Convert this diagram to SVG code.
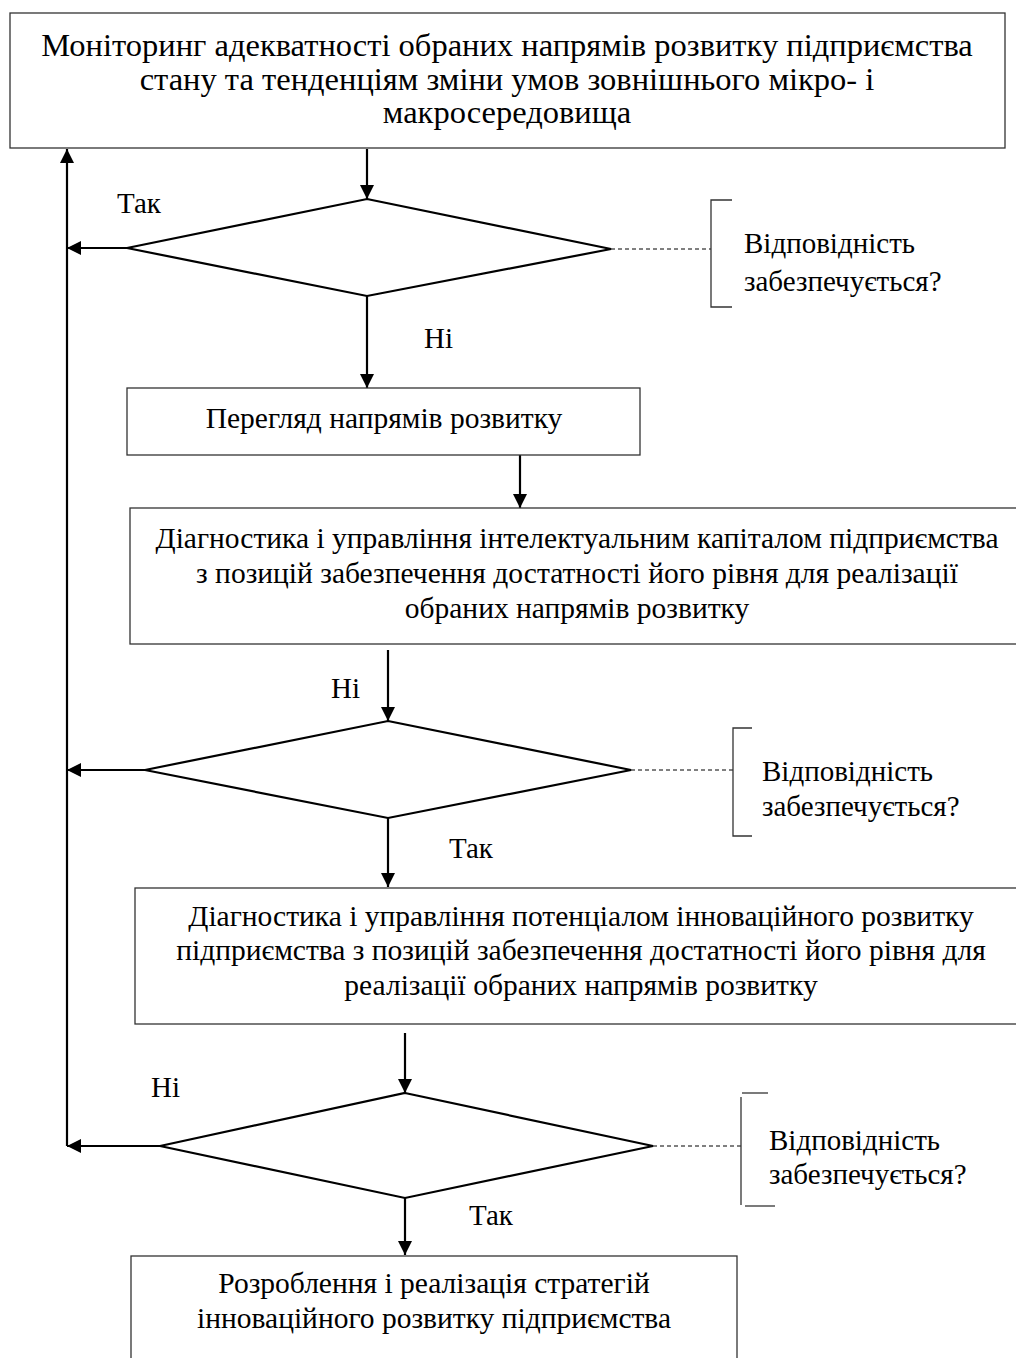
<svg xmlns="http://www.w3.org/2000/svg" width="1016" height="1358" viewBox="0 0 1016 1358">
<style>
.box{fill:#fff;stroke:#333;stroke-width:1.3}
.dia{fill:#fff;stroke:#000;stroke-width:2.2;stroke-linejoin:miter}
.t{font-family:"Liberation Serif","Times New Roman",serif;font-size:29px;fill:#000}
.b{font-size:29.5px}
.top{font-size:32.5px}
.c{text-anchor:middle}
.ln{stroke:#000;stroke-width:2.2;fill:none}
.dash{stroke:#000;stroke-width:1;stroke-dasharray:4 3;fill:none}
.br{stroke:#333;stroke-width:1.3;fill:none}
</style>
<defs>
<marker id="ah" markerUnits="userSpaceOnUse" markerWidth="14" markerHeight="14" refX="14" refY="7" orient="auto">
<path d="M0,0 L14,7 L0,14 z" fill="#000"/>
</marker>
</defs>
<rect width="1016" height="1358" fill="#fff"/>

<g id="connectors">
<line class="ln" x1="367" y1="149" x2="367" y2="199" marker-end="url(#ah)"/>
<line class="ln" x1="127" y1="248" x2="67" y2="248" marker-end="url(#ah)"/>
<line class="ln" x1="67" y1="1146" x2="67" y2="149" marker-end="url(#ah)"/>
<line class="ln" x1="367" y1="296" x2="367" y2="388" marker-end="url(#ah)"/>
<line class="ln" x1="520" y1="455" x2="520" y2="508" marker-end="url(#ah)"/>
<line class="ln" x1="388" y1="650" x2="388" y2="721" marker-end="url(#ah)"/>
<line class="ln" x1="145" y1="770" x2="67" y2="770" marker-end="url(#ah)"/>
<line class="ln" x1="388" y1="818" x2="388" y2="887" marker-end="url(#ah)"/>
<line class="ln" x1="405" y1="1033" x2="405" y2="1093" marker-end="url(#ah)"/>
<line class="ln" x1="160" y1="1146" x2="67" y2="1146" marker-end="url(#ah)"/>
<line class="ln" x1="405" y1="1198" x2="405" y2="1255" marker-end="url(#ah)"/>
<line class="dash" x1="611" y1="249" x2="711" y2="249"/>
<line class="dash" x1="631" y1="770" x2="733" y2="770"/>
<line class="dash" x1="653" y1="1146" x2="741" y2="1146"/>
</g>

<g id="n1">
<rect class="box" x="10" y="13" width="995" height="135"/>
<text class="t top c" x="507" y="56">Моніторинг адекватності обраних напрямів розвитку підприємства</text>
<text class="t top c" x="507" y="90">стану та тенденціям зміни умов зовнішнього мікро- і</text>
<text class="t top c" x="507" y="123">макросередовища</text>
</g>

<g id="d1">
<polygon class="dia" points="367,199 611,249 367,296 127,248"/>
</g>
<g id="note1">
<polyline class="br" points="732,200 711,200 711,307 732,307"/>
<text class="t" x="744" y="253">Відповідність</text>
<text class="t" x="744" y="291">забезпечується?</text>
</g>

<g id="n2">
<rect class="box" x="127" y="388" width="513" height="67"/>
<text class="t b c" x="384" y="428">Перегляд напрямів розвитку</text>
</g>

<g id="n3">
<rect class="box" x="130" y="508" width="900" height="136"/>
<text class="t b c" x="577" y="548">Діагностика і управління інтелектуальним капіталом підприємства</text>
<text class="t b c" x="577" y="583">з позицій забезпечення достатності його рівня для реалізації</text>
<text class="t b c" x="577" y="618">обраних напрямів розвитку</text>
</g>

<g id="d2">
<polygon class="dia" points="388,721 631,770 388,818 145,770"/>
</g>
<g id="note2">
<polyline class="br" points="752,728 733,728 733,836 752,836"/>
<text class="t" x="762" y="781">Відповідність</text>
<text class="t" x="762" y="816">забезпечується?</text>
</g>

<g id="n4">
<rect class="box" x="135" y="888" width="900" height="136"/>
<text class="t b c" x="581" y="926">Діагностика і управління потенціалом інноваційного розвитку</text>
<text class="t b c" x="581" y="960">підприємства з позицій забезпечення достатності його рівня для</text>
<text class="t b c" x="581" y="995">реалізації обраних напрямів розвитку</text>
</g>

<g id="d3">
<polygon class="dia" points="405,1093 653,1146 405,1198 160,1146"/>
</g>
<g id="note3">
<line class="br" x1="741" y1="1097" x2="741" y2="1205"/>
<line class="br" x1="742" y1="1093" x2="768" y2="1093"/>
<line class="br" x1="745" y1="1206" x2="775" y2="1206"/>
<text class="t" x="769" y="1150">Відповідність</text>
<text class="t" x="769" y="1184">забезпечується?</text>
</g>

<g id="n5">
<rect class="box" x="131" y="1256" width="606" height="120"/>
<text class="t b c" x="434" y="1293">Розроблення і реалізація стратегій</text>
<text class="t b c" x="434" y="1328">інноваційного розвитку підприємства</text>
</g>

<g id="labels">
<text class="t" x="117" y="213">Так</text>
<text class="t" x="424" y="348">Ні</text>
<text class="t" x="331" y="698">Ні</text>
<text class="t" x="449" y="858">Так</text>
<text class="t" x="151" y="1097">Ні</text>
<text class="t" x="469" y="1225">Так</text>
</g>
</svg>
